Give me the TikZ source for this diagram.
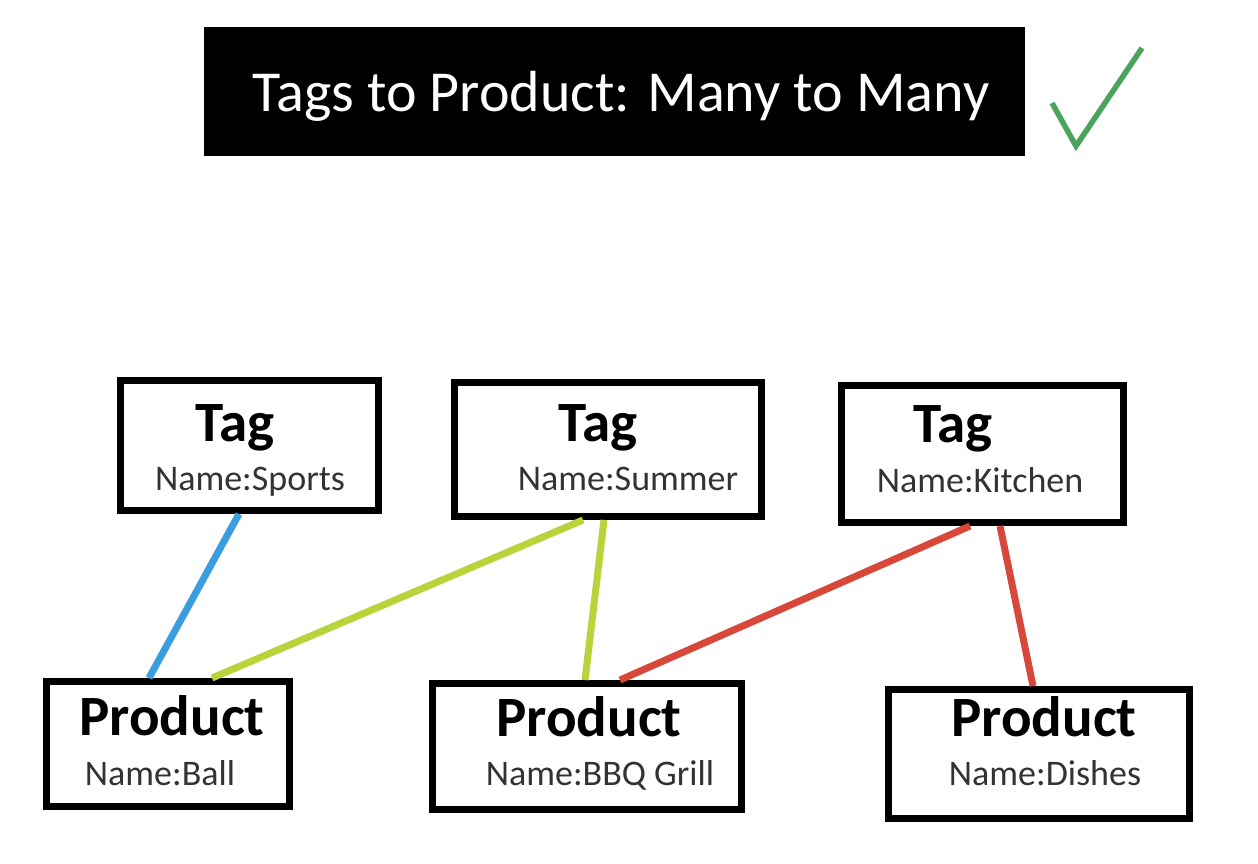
\documentclass[tikz,border=0pt]{standalone}
\usepackage{fontspec}
\setmainfont{Carlito}
\definecolor{linkblue}{HTML}{3A9DDF}
\definecolor{linklime}{HTML}{B7D43A}
\definecolor{linkred}{HTML}{D8483A}
\definecolor{tickgreen}{HTML}{4AA55A}

\begin{document}
\begin{tikzpicture}[x=1pt,y=-1pt,
  box/.style={draw,line width=7pt,inner sep=0pt},
  head/.style={anchor=base,font=\fontsize{57}{60}\selectfont\bfseries},
  info/.style={anchor=base,text=black!80,font=\fontsize{36}{40}\selectfont},
  link/.style={line width=7pt}]
\useasboundingbox (0,0) rectangle (1258,864);
\node at(614.5,91.5)[fill=black,minimum width=821pt,minimum height=129pt](banner){};
\node at(621,112)[anchor=base,text=white,font=\fontsize{58}{62}\selectfont](title){Tags to Product: Many to Many};
\draw[tickgreen,line width=5.5pt] (1052,103) -- (1076,146) -- (1142,48);

\node at(249.5,445.5)[box,minimum width=258pt,minimum height=130pt](t1){};
\node at(608,449.5)[box,minimum width=307pt,minimum height=134pt](t2){};
\node at(982.5,454)[box,minimum width=282pt,minimum height=137pt](t3){};
\node at(168,744)[box,minimum width=243pt,minimum height=125pt](p1){};
\node at(587,746.5)[box,minimum width=309pt,minimum height=126pt](p2){};
\node at(1039,754)[box,minimum width=301pt,minimum height=129pt](p3){};

\node at(235,441)[head](t1h){Tag};
\node at(250,490)[info](t1n){Name:Sports};
\node at(598,441)[head](t2h){Tag};
\node at(628,490)[info](t2n){Name:Summer};
\node at(953,442)[head](t3h){Tag};
\node at(980,492)[info](t3n){Name:Kitchen};
\node at(172,735)[head](p1h){Product};
\node at(160,785)[info](p1n){Name:Ball};
\node at(589,736)[head](p2h){Product};
\node at(600,785)[info](p2n){Name:BBQ Grill};
\node at(1044,736)[head](p3h){Product};
\node at(1045,785)[info](p3n){Name:Dishes};

\path[link]
    ([xshift=-10.5pt]t1.south) edge[linkblue] ([xshift=-19pt]p1.north)
    ([xshift=-25pt]t2.south) edge[linklime] ([xshift=44pt]p1.north)
    ([xshift=-4pt]t2.south) edge[linklime] ([xshift=-2pt]p2.north)
    ([xshift=-12.5pt]t3.south) edge[linkred] ([xshift=33pt]p2.north)
    ([xshift=17.5pt]t3.south) edge[linkred] ([xshift=-6pt]p3.north);
\end{tikzpicture}
\end{document}
